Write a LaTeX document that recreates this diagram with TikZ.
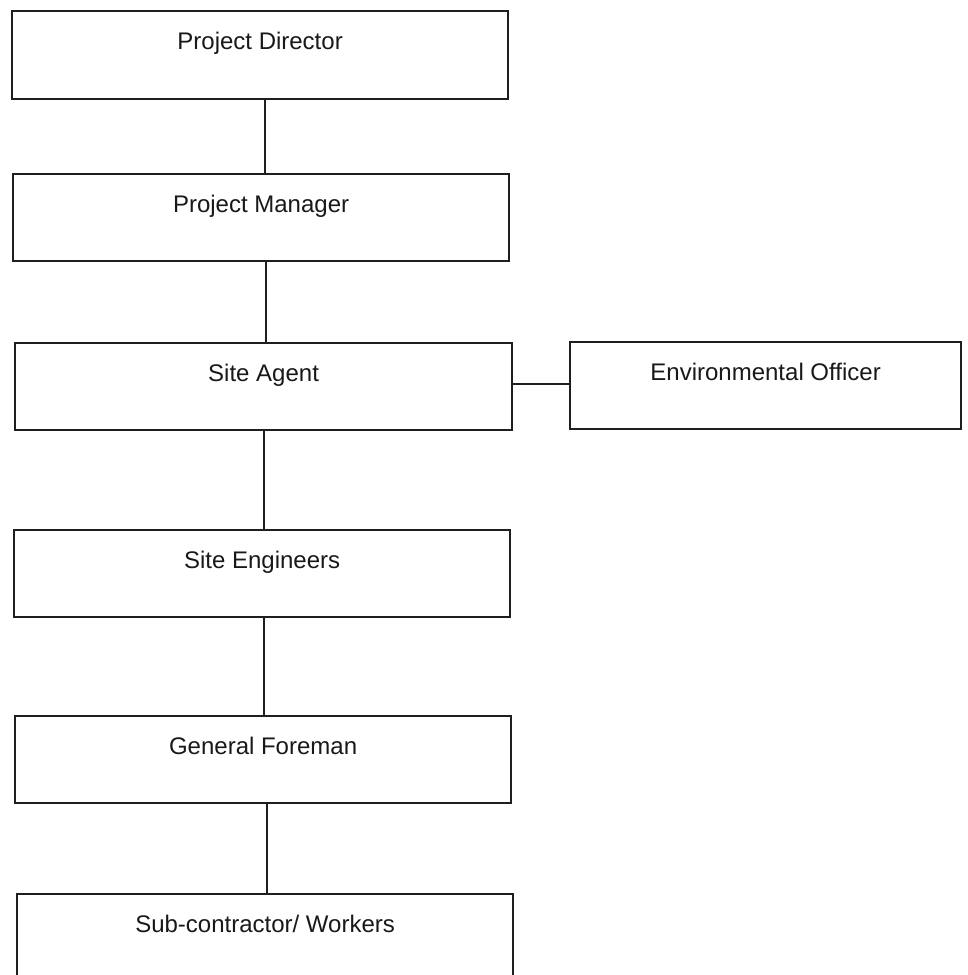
\documentclass[tikz,border=0pt]{standalone}
\usepackage{fontspec}
\setmainfont{Liberation Sans}
\begin{document}
\begin{tikzpicture}[x=1pt,y=-1pt,
  orgbox/.style={draw=black!88, line width=2.2pt, rectangle, inner sep=0pt,
    anchor=north west, text height=38.5pt, text depth=48.5pt,
    font=\fontsize{24}{28}\selectfont, text=black!90},
  link/.style={draw=black!88, line width=2.1pt}]
\clip (0,0) rectangle (968,975);
\fill[white] (0,0) rectangle (968,975);
\node[orgbox, minimum width=496pt, text depth=49.5pt] (pd) at (11,9.5) {Project Director};
\node[orgbox, minimum width=496pt] (pm) at (12,173) {Project Manager};
\node[orgbox, minimum width=497pt] (sa) at (14,342) {Site Agent};
\node[orgbox, minimum width=391pt] (eo) at (569,341) {Environmental Officer};
\node[orgbox, minimum width=496pt] (se) at (13,529) {Site Engineers};
\node[orgbox, minimum width=496pt] (gf) at (14,715) {General Foreman};
\node[orgbox, minimum width=496pt] (sc) at (16,893) {Sub-contractor/ Workers};
\coordinate (x1) at (265,0);
\coordinate (x2) at (266,0);
\coordinate (x3) at (264,0);
\coordinate (x4) at (264,0);
\coordinate (x5) at (267,0);
\coordinate (yh) at (0,384);
\draw[link] (pd.south -| x1) -- (pm.north -| x1);
\draw[link] (pm.south -| x2) -- (sa.north -| x2);
\draw[link] (sa.south -| x3) -- (se.north -| x3);
\draw[link] (se.south -| x4) -- (gf.north -| x4);
\draw[link] (gf.south -| x5) -- (sc.north -| x5);
\draw[link] (yh -| sa.east) -- (yh -| eo.west);
\end{tikzpicture}
\end{document}
